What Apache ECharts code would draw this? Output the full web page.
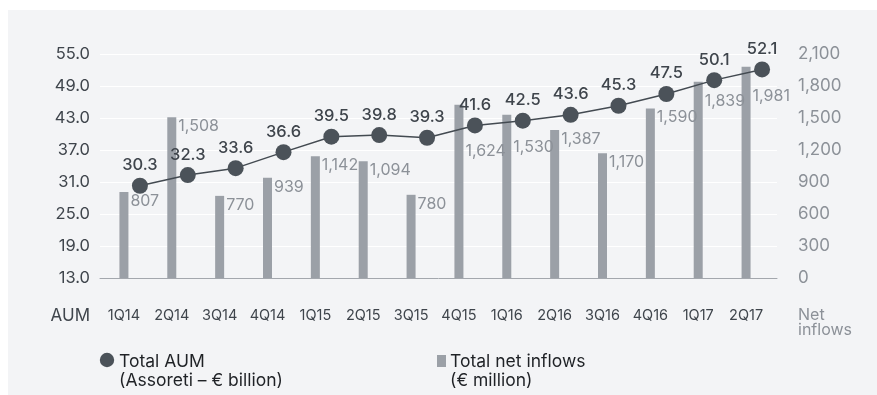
<!DOCTYPE html>
<html>
<head>
<meta charset="utf-8">
<script src="https://cdn.jsdelivr.net/npm/echarts@6/dist/echarts.min.js"></script>
<style>
  html, body { margin: 0; padding: 0; background: #ffffff; }
  #chart { width: 877px; height: 395px; }
</style>
</head>
<body>
<div id="chart"></div>
<script>
// Quarterly AUM and net inflows, 1Q14 – 2Q17
const quarters = ['1Q14', '2Q14', '3Q14', '4Q14', '1Q15', '2Q15', '3Q15', '4Q15',
                  '1Q16', '2Q16', '3Q16', '4Q16', '1Q17', '2Q17'];
const totalAum = [30.3, 32.3, 33.6, 36.6, 39.5, 39.8, 39.3, 41.6, 42.5, 43.6, 45.3, 47.5, 50.1, 52.1];
const netInflows = [807, 1508, 770, 939, 1142, 1094, 780, 1624, 1530, 1387, 1170, 1590, 1839, 1981];
const aumTicks = [13, 19, 25, 31, 37, 43, 49, 55];
const inflowTicks = [0, 300, 600, 900, 1200, 1500, 1800, 2100];

// extra downward shift for inflow labels that would sit under an AUM marker
const labelShift = { 7: 37, 8: 23, 12: 10, 13: 20 };

const FONT = 'Inter, "Noto Sans", sans-serif';
const DARK = '#3f454c';
const GREY_TXT = '#8c9198';
const BAR = '#9ba0a7';
const MARK = '#4b5259';

const fmtInt = v => v.toLocaleString('en-US');

const barData = netInflows.map((v, i) => ({
  value: v,
  label: { offset: [2, 1 + (labelShift[i] || 0)] }
}));

const chart = echarts.init(document.getElementById('chart'), null, { renderer: 'canvas' });

const option = {
  backgroundColor: '#ffffff',
  animation: false,
  textStyle: { fontFamily: FONT },
  grid: [
    // frame grid: gridlines + AUM scale
    { left: 100, top: 54, width: 677, height: 224 },
    // bars
    { left: 100, top: 54, width: 670, height: 224 },
    // AUM line, shifted right of each bar
    { left: 116, top: 54, width: 670, height: 224 }
  ],
  xAxis: [
    {
      gridIndex: 0, type: 'category', data: quarters,
      axisLine: { show: true, lineStyle: { color: '#a3a7ad', width: 1 } },
      axisTick: { show: false }, axisLabel: { show: false }, splitLine: { show: false }
    },
    {
      gridIndex: 1, type: 'category', data: quarters,
      axisLine: { show: false }, axisTick: { show: false },
      axisLabel: { show: true, margin: 30, color: DARK, fontSize: 14.5, fontFamily: FONT }
    },
    {
      gridIndex: 2, type: 'category', data: quarters, show: false
    }
  ],
  yAxis: [
    {
      gridIndex: 0, type: 'value', min: aumTicks[0], max: aumTicks[aumTicks.length - 1], interval: 6,
      axisLine: { show: false }, axisTick: { show: false },
      axisLabel: { margin: 10, color: DARK, fontSize: 16.5, fontFamily: FONT, formatter: v => v.toFixed(1) },
      splitLine: { show: true, lineStyle: { color: '#ffffff', width: 1.2 } }
    },
    {
      gridIndex: 1, type: 'value', position: 'right',
      min: inflowTicks[0], max: inflowTicks[inflowTicks.length - 1], interval: 300,
      axisLine: { show: false }, axisTick: { show: false },
      axisLabel: { margin: 28, color: GREY_TXT, fontSize: 17, fontFamily: FONT, formatter: fmtInt },
      splitLine: { show: false }
    },
    {
      gridIndex: 2, type: 'value', min: aumTicks[0], max: aumTicks[aumTicks.length - 1], show: false
    }
  ],
  series: [
    {
      name: 'Total net inflows',
      type: 'bar',
      xAxisIndex: 1, yAxisIndex: 1,
      data: barData,
      barWidth: 9,
      itemStyle: { color: BAR },
      label: {
        show: true,
        position: ['100%', 0],
        align: 'left', verticalAlign: 'top',
        color: GREY_TXT, fontSize: 16, fontFamily: FONT,
        formatter: p => fmtInt(p.value)
      },
      z: 2
    },
    {
      name: 'Total AUM',
      type: 'line',
      xAxisIndex: 2, yAxisIndex: 2,
      data: totalAum,
      symbol: 'circle', symbolSize: 16,
      lineStyle: { color: '#434a51', width: 1.5 },
      itemStyle: { color: MARK },
      label: {
        show: true, position: 'top', distance: 4,
        color: DARK, fontSize: 16.5, fontWeight: 500, fontFamily: FONT,
        formatter: p => p.value.toFixed(1)
      },
      z: 3
    }
  ],
  graphic: [
    { type: 'rect', silent: true, z: -10,
      shape: { x: 8, y: 10, width: 869, height: 385 }, style: { fill: '#f3f4f6' } },
    { type: 'text', x: 90, y: 316,
      style: { text: 'AUM', fill: DARK, font: '17px ' + FONT, align: 'right', verticalAlign: 'middle' } },
    { type: 'text', x: 798, y: 308,
      style: { text: 'Net\ninflows', fill: GREY_TXT, font: '16px ' + FONT, lineHeight: 15, align: 'left', verticalAlign: 'top' } },
    // legend: AUM
    { type: 'circle', shape: { cx: 107, cy: 360, r: 7.2 }, style: { fill: MARK } },
    { type: 'text', x: 119, y: 352,
      style: { text: 'Total AUM\n(Assoreti – € billion)', fill: '#1f2226', font: '17.5px ' + FONT, lineHeight: 19, align: 'left', verticalAlign: 'top' } },
    // legend: net inflows
    { type: 'rect', shape: { x: 437, y: 355, width: 9, height: 12 }, style: { fill: BAR } },
    { type: 'text', x: 450, y: 352,
      style: { text: 'Total net inflows\n(€ million)', fill: '#1f2226', font: '17.5px ' + FONT, lineHeight: 19, align: 'left', verticalAlign: 'top' } }
  ]
};

chart.setOption(option);
</script>
</body>
</html>
